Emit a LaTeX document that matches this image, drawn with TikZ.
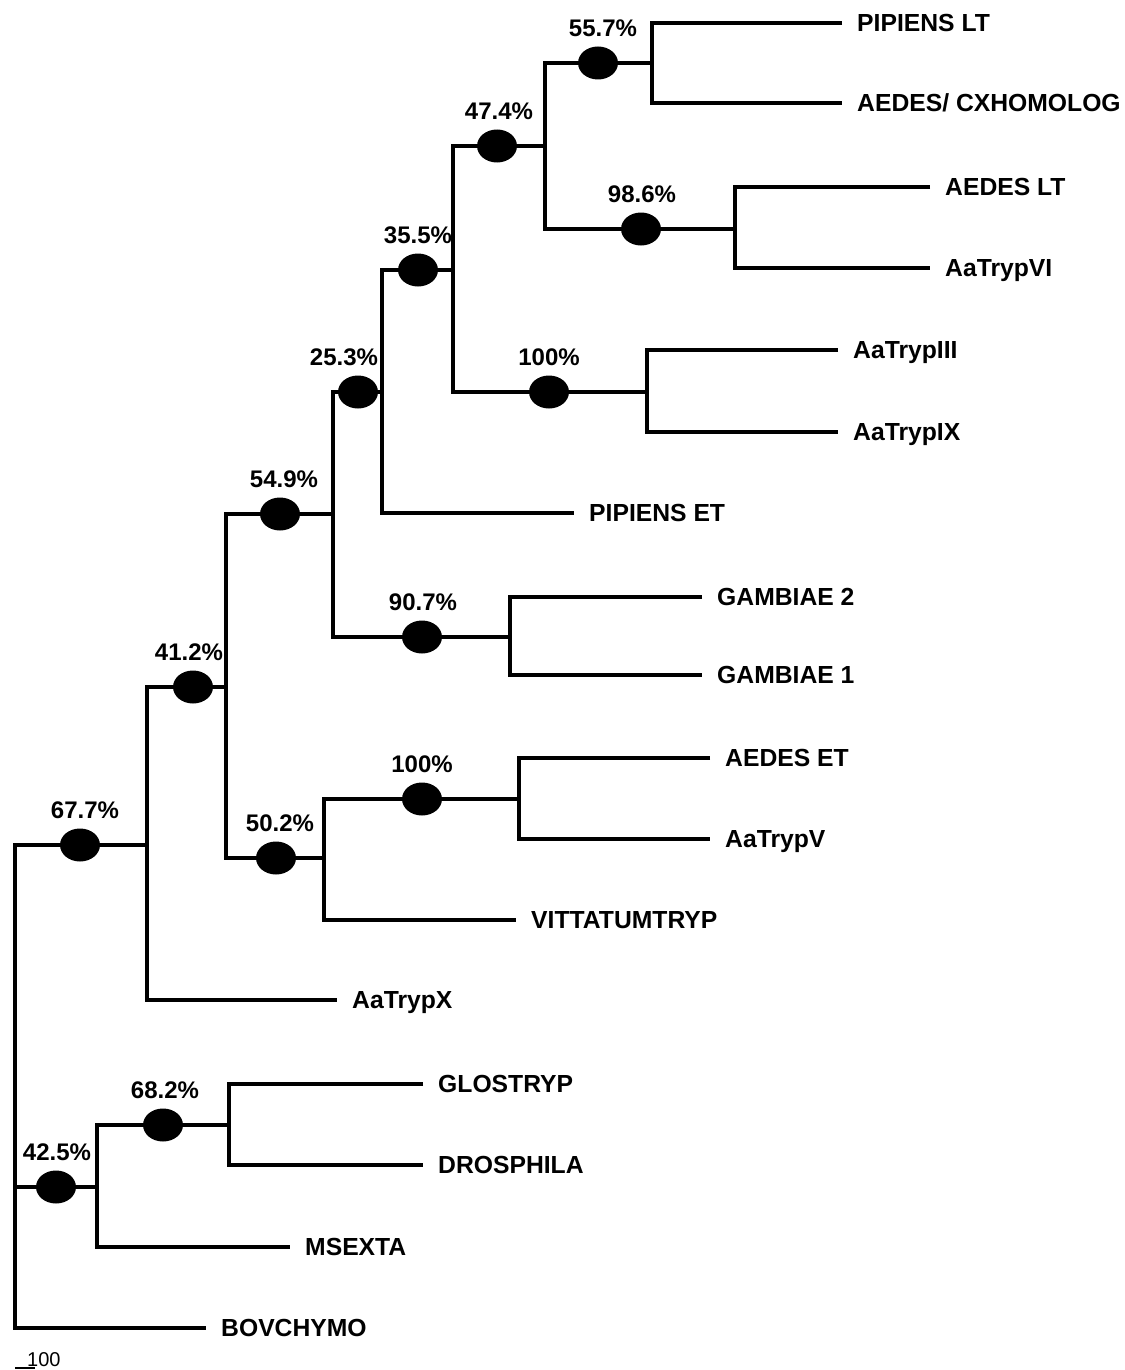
\documentclass[tikz,border=0pt]{standalone}
\usepackage{fontspec}
\setmainfont{Liberation Sans}
\usetikzlibrary{positioning,shapes.geometric}
\newcommand{\bootclade}[5]{%
  \node[bootdot] (b#1) at (#2,#3) {};
  \node[bootpct,above=10pt of b#1,xshift=#5] (p#1) {#4\%};
}
\newcommand{\taxon}[4]{%
  \node[taxonlbl] (#1) at (#2,#3) {#4};
}

\begin{document}
\begin{tikzpicture}[x=1pt,y=-1pt,
    branch/.style={line width=3.2pt,line join=miter},
    bootdot/.style={ellipse,fill=black,draw=none,inner sep=0pt,
                    minimum width=40pt,minimum height=33pt},
    bootpct/.style={inner sep=0pt,text height=17pt,text depth=0pt,
                    font=\fontsize{24}{27}\selectfont\bfseries},
    taxonlbl/.style={anchor=west,inner xsep=15pt,inner ysep=0pt,
                     text height=17.7pt,text depth=0pt,
                     font=\fontsize{24.7}{28}\selectfont\bfseries}]
  \useasboundingbox (0,0) rectangle (1124,1370);

  % bootstrap clades
  \bootclade{677}{80}{845}{67.7}{5pt}
  \bootclade{412}{193}{687}{41.2}{-4pt}
  \bootclade{549}{280}{514}{54.9}{4pt}
  \bootclade{253}{358}{392}{25.3}{-14pt}
  \bootclade{355}{418}{270}{35.5}{0pt}
  \bootclade{474}{497}{146}{47.4}{2pt}
  \bootclade{557}{598}{63}{55.7}{5pt}
  \bootclade{986}{641}{229}{98.6}{1pt}
  \bootclade{100a}{549}{392}{100}{0pt}
  \bootclade{907}{422}{637}{90.7}{1pt}
  \bootclade{502}{276}{858}{50.2}{4pt}
  \bootclade{100b}{422}{799}{100}{0pt}
  \bootclade{425}{56}{1187}{42.5}{1pt}
  \bootclade{682}{163}{1125}{68.2}{2pt}

  % junctions
  \coordinate (j0) at (15,1187);
  \coordinate (j677) at (147,845);
  \coordinate (j412) at (226,687);
  \coordinate (j549) at (333,514);
  \coordinate (j253) at (382,392);
  \coordinate (j355) at (453,270);
  \coordinate (j474) at (545,146);
  \coordinate (j557) at (652,63);
  \coordinate (j986) at (735,229);
  \coordinate (j100a) at (647,392);
  \coordinate (j907) at (510,637);
  \coordinate (j502) at (324,858);
  \coordinate (j100b) at (519,799);
  \coordinate (j425) at (97,1187);
  \coordinate (j682) at (229,1125);

  % taxa
  \taxon{pipienslt}{842}{23}{PIPIENS LT}
  \taxon{aedescx}{842}{103}{AEDES/ CXHOMOLOG}
  \taxon{aedeslt}{930}{187}{AEDES LT}
  \taxon{aatrypvi}{930}{268}{AaTrypVI}
  \taxon{aatrypiii}{838}{350}{AaTrypIII}
  \taxon{aatrypix}{838}{432}{AaTrypIX}
  \taxon{pipienset}{574}{513}{PIPIENS ET}
  \taxon{gambiaeb}{702}{597}{GAMBIAE 2}
  \taxon{gambiaea}{702}{675}{GAMBIAE 1}
  \taxon{aedeset}{710}{758}{AEDES ET}
  \taxon{aatrypv}{710}{839}{AaTrypV}
  \taxon{vittatum}{516}{920}{VITTATUMTRYP}
  \taxon{aatrypx}{337}{1000}{AaTrypX}
  \taxon{glostryp}{423}{1084}{GLOSTRYP}
  \taxon{drosphila}{423}{1165}{DROSPHILA}
  \taxon{msexta}{290}{1247}{MSEXTA}
  \taxon{bovchymo}{206}{1328}{BOVCHYMO}

  % stems
  \foreach \c in {677,412,549,253,355,474,557,986,100a,907,502,100b,425,682}
    \draw[branch] (b\c) -- (j\c);

  % elbows
  \draw[branch] (b677) -| (j0) |- (bovchymo.west);
  \draw[branch] (j0) -- (b425);
  \draw[branch] (b412) -| (j677) |- (aatrypx.west);
  \draw[branch] (b549) -| (j412) |- (b502);
  \draw[branch] (b253) -| (j549) |- (b907);
  \draw[branch] (b355) -| (j253) |- (pipienset.west);
  \draw[branch] (b474) -| (j355) |- (b100a);
  \draw[branch] (b557) -| (j474) |- (b986);
  \draw[branch] (pipienslt.west) -| (j557) |- (aedescx.west);
  \draw[branch] (aedeslt.west) -| (j986) |- (aatrypvi.west);
  \draw[branch] (aatrypiii.west) -| (j100a) |- (aatrypix.west);
  \draw[branch] (gambiaeb.west) -| (j907) |- (gambiaea.west);
  \draw[branch] (b100b) -| (j502) |- (vittatum.west);
  \draw[branch] (aedeset.west) -| (j100b) |- (aatrypv.west);
  \draw[branch] (b682) -| (j425) |- (msexta.west);
  \draw[branch] (glostryp.west) -| (j682) |- (drosphila.west);

  % scale bar
  \coordinate (sba) at (15,1368);
  \coordinate (sbb) at (35,1368);
  \draw[line width=2pt] (sba) -- (sbb);
  \node[anchor=base west,inner sep=0pt,font=\fontsize{20}{22}\selectfont] (sbl) at (27,1366) {100};
\end{tikzpicture}
\end{document}
